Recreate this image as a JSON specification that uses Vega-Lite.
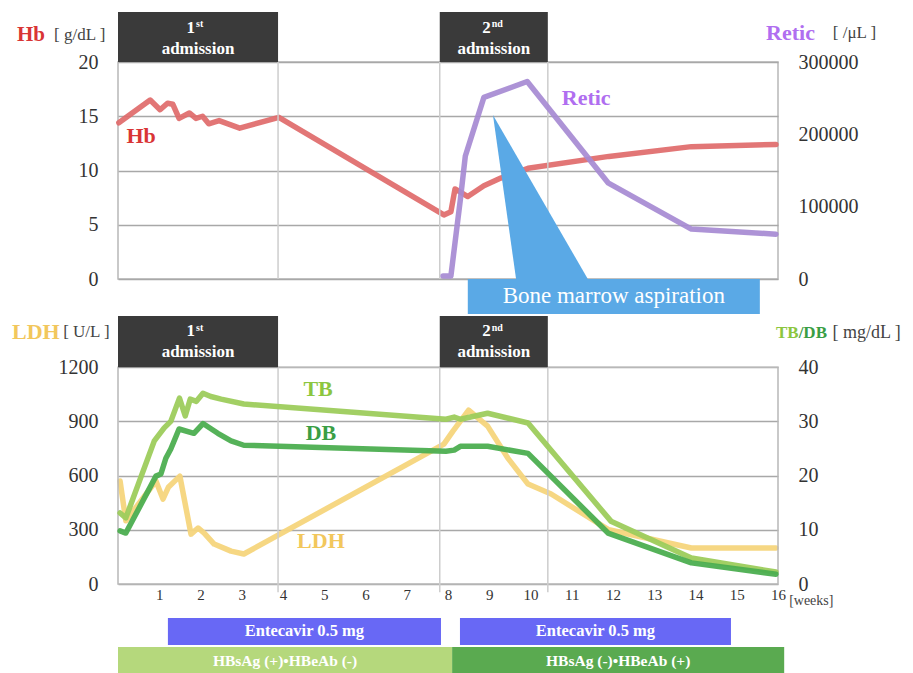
{
"$schema":"https://vega.github.io/schema/vega-lite/v6.json",
"background":"white",
"padding":{"left":11,"top":11,"right":2,"bottom":0},
"spacing":34,
"bounds":"flush",
"config":{
 "font":"Liberation Serif",
 "view":{"stroke":"#b8b8b8","strokeWidth":1.5},
 "axis":{"domain":false,"ticks":false,"labelFont":"Liberation Serif","labelColor":"#333333","labelFontSize":20,"gridColor":"#a8a8a8","gridWidth":1.5,"labelPadding":20}
},
"datasets":{
 "hb":[{"w":0.02,"v":14.4},{"w":0.78,"v":16.5},{"w":1.02,"v":15.6},{"w":1.2,"v":16.2},{"w":1.33,"v":16.1},{"w":1.48,"v":14.8},{"w":1.73,"v":15.3},{"w":1.89,"v":14.8},{"w":2.05,"v":15.0},{"w":2.2,"v":14.3},{"w":2.45,"v":14.6},{"w":2.95,"v":13.9},{"w":3.9,"v":14.9},{"w":7.9,"v":5.9},{"w":8.07,"v":6.2},{"w":8.17,"v":8.3},{"w":8.48,"v":7.6},{"w":8.87,"v":8.6},{"w":9.28,"v":9.3},{"w":9.94,"v":10.2},{"w":11.9,"v":11.3},{"w":13.9,"v":12.2},{"w":15.95,"v":12.4}],
 "retic":[{"w":7.88,"v":4000},{"w":8.07,"v":4000},{"w":8.3,"v":110000},{"w":8.42,"v":170000},{"w":8.87,"v":251000},{"w":9.92,"v":273000},{"w":11.88,"v":133000},{"w":13.9,"v":69000},{"w":15.95,"v":62000}],
 "ldh":[{"w":0.05,"v":570},{"w":0.19,"v":350},{"w":0.92,"v":570},{"w":1.09,"v":470},{"w":1.22,"v":535},{"w":1.5,"v":597},{"w":1.77,"v":276},{"w":1.94,"v":310},{"w":2.09,"v":282},{"w":2.33,"v":221},{"w":2.74,"v":182},{"w":3.05,"v":166},{"w":7.9,"v":774},{"w":8.12,"v":846},{"w":8.5,"v":962},{"w":8.96,"v":874},{"w":9.45,"v":697},{"w":9.94,"v":553},{"w":10.5,"v":498},{"w":11.9,"v":300},{"w":13.9,"v":199},{"w":15.95,"v":199}],
 "tb":[{"w":0.05,"v":13.1},{"w":0.19,"v":12.2},{"w":0.88,"v":26.4},{"w":1.12,"v":28.8},{"w":1.28,"v":30.0},{"w":1.49,"v":34.3},{"w":1.63,"v":31.0},{"w":1.75,"v":34.1},{"w":1.9,"v":33.7},{"w":2.06,"v":35.2},{"w":2.25,"v":34.6},{"w":2.5,"v":34.1},{"w":3.05,"v":33.2},{"w":7.95,"v":30.4},{"w":8.15,"v":30.8},{"w":8.3,"v":30.4},{"w":8.96,"v":31.5},{"w":9.94,"v":29.7},{"w":11.95,"v":11.6},{"w":13.9,"v":4.8},{"w":15.95,"v":2.2}],
 "db":[{"w":0.05,"v":9.8},{"w":0.19,"v":9.4},{"w":0.92,"v":19.9},{"w":1.04,"v":20.3},{"w":1.16,"v":23.2},{"w":1.28,"v":24.9},{"w":1.48,"v":28.6},{"w":1.84,"v":27.8},{"w":2.06,"v":29.6},{"w":2.42,"v":27.8},{"w":2.74,"v":26.4},{"w":3.05,"v":25.6},{"w":7.95,"v":24.5},{"w":8.15,"v":24.7},{"w":8.3,"v":25.4},{"w":8.96,"v":25.4},{"w":9.94,"v":24.1},{"w":11.88,"v":9.4},{"w":13.9,"v":3.9},{"w":15.95,"v":1.8}],
 "adm":[{"id":"a1","num":"1","sup":"st","start":0,"end":3.88},{"id":"a2","num":"2","sup":"nd","start":7.8,"end":10.42}],
 "vlines":[{"w":3.88},{"w":7.8},{"w":10.42}],
 "bars":[{"id":"e1","row":"E","kind":"ent","label":"Entecavir 0.5 mg","start":1.21,"end":7.83},{"id":"e2","row":"E","kind":"ent","label":"Entecavir 0.5 mg","start":8.29,"end":14.86},{"id":"h1","row":"H","kind":"pos","label":"HBsAg (+)•HBeAb (-)","start":0,"end":8.1},{"id":"h2","row":"H","kind":"neg","label":"HBsAg (-)•HBeAb (+)","start":8.1,"end":16.15}]
},
"vconcat":[
 {
  "width":660,"height":217,
  "resolve":{"scale":{"y":"independent"}},
  "layer":[
   {"layer":[
    {"data":{"name":"hb"},
     "mark":{"type":"line","color":"#e06a6a","strokeWidth":5.5,"opacity":0.92,"strokeJoin":"round","strokeCap":"round"},
     "encoding":{"x":{"field":"w","type":"quantitative","scale":{"domain":[0,16],"nice":false,"zero":false},"axis":null},
      "y":{"field":"v","type":"quantitative","scale":{"domain":[0,20],"nice":false},"axis":{"orient":"left","title":null,"values":[0,5,10,15,20],"grid":true}}}},
    {"data":{"name":"vlines"},
     "mark":{"type":"rule","color":"#cdcdcd","strokeWidth":1.5},
     "encoding":{"x":{"field":"w","type":"quantitative","scale":{"domain":[0,16],"nice":false,"zero":false},"axis":null},
      "y":{"datum":0,"type":"quantitative","scale":{"domain":[0,20],"nice":false}},
      "y2":{"datum":20}}},
    {"data":{"name":"adm"},
     "mark":{"type":"rect","color":"#3a3a3a"},
     "encoding":{"x":{"field":"start","type":"quantitative","scale":{"domain":[0,16],"nice":false,"zero":false},"axis":null},"x2":{"field":"end"},
      "y":{"datum":20,"type":"quantitative","scale":{"domain":[0,20],"nice":false}},"y2":{"datum":24.6}}},
    {"data":{"name":"adm"},"transform":[{"fold":["start","end"],"as":["k","pos"]}],
     "mark":{"type":"text","color":"white","fontWeight":"bold","fontSize":17,"align":"right","baseline":"middle","dx":-3},
     "encoding":{"x":{"aggregate":"mean","field":"pos","type":"quantitative","scale":{"domain":[0,16],"nice":false,"zero":false},"axis":null},
      "y":{"datum":23.1,"type":"quantitative","scale":{"domain":[0,20],"nice":false}},"text":{"field":"num"}}},
    {"data":{"name":"adm"},"transform":[{"fold":["start","end"],"as":["k","pos"]}],
     "mark":{"type":"text","color":"white","fontWeight":"bold","fontSize":10,"align":"left","baseline":"middle","dx":-2},
     "encoding":{"x":{"aggregate":"mean","field":"pos","type":"quantitative","scale":{"domain":[0,16],"nice":false,"zero":false},"axis":null},
      "y":{"datum":23.5,"type":"quantitative","scale":{"domain":[0,20],"nice":false}},"text":{"field":"sup"}}},
    {"data":{"name":"adm"},"transform":[{"fold":["start","end"],"as":["k","pos"]}],
     "mark":{"type":"text","color":"white","fontWeight":"bold","fontSize":17,"align":"center","baseline":"middle"},
     "encoding":{"x":{"aggregate":"mean","field":"pos","type":"quantitative","scale":{"domain":[0,16],"nice":false,"zero":false},"axis":null},
      "y":{"datum":21.2,"type":"quantitative","scale":{"domain":[0,20],"nice":false}},"detail":{"field":"id"},"text":{"value":"admission"}}},
    {"data":{"values":[{"w":0.56,"v":13.2,"t":"Hb"}]},
     "mark":{"type":"text","color":"#d93535","fontWeight":"bold","fontSize":22,"baseline":"middle"},
     "encoding":{"x":{"field":"w","type":"quantitative","scale":{"domain":[0,16],"nice":false,"zero":false},"axis":null},
      "y":{"field":"v","type":"quantitative","scale":{"domain":[0,20],"nice":false}},"text":{"field":"t"}}},
    {"data":{"values":[{"w":-2.45,"v":22.5,"t":"Hb"}]},
     "mark":{"type":"text","color":"#d93535","fontWeight":"bold","fontSize":21,"align":"left","baseline":"middle"},
     "encoding":{"x":{"field":"w","type":"quantitative","scale":{"domain":[0,16],"nice":false,"zero":false},"axis":null},
      "y":{"field":"v","type":"quantitative","scale":{"domain":[0,20],"nice":false}},"text":{"field":"t"}}},
    {"data":{"values":[{"w":-1.55,"v":22.5,"t":"[ g/dL ]"}]},
     "mark":{"type":"text","color":"#444444","fontSize":17,"align":"left","baseline":"middle"},
     "encoding":{"x":{"field":"w","type":"quantitative","scale":{"domain":[0,16],"nice":false,"zero":false},"axis":null},
      "y":{"field":"v","type":"quantitative","scale":{"domain":[0,20],"nice":false}},"text":{"field":"t"}}}
   ]},
   {"layer":[
    {"data":{"name":"retic"},
     "mark":{"type":"line","color":"#a68ad2","strokeWidth":5.5,"opacity":0.92,"strokeJoin":"round","strokeCap":"round"},
     "encoding":{"x":{"field":"w","type":"quantitative","scale":{"domain":[0,16],"nice":false,"zero":false},"axis":null},
      "y":{"field":"v","type":"quantitative","scale":{"domain":[0,300000],"nice":false},"axis":{"orient":"right","title":null,"values":[0,100000,200000,300000],"format":"d","grid":false}}}},
    {"data":{"values":[{"v":0,"a":9.65,"b":11.39},{"v":226700,"a":9.09,"b":9.09}]},
     "mark":{"type":"area","orient":"horizontal","color":"#5aa9e6","opacity":1},
     "encoding":{"y":{"field":"v","type":"quantitative","scale":{"domain":[0,300000],"nice":false}},
      "x":{"field":"a","type":"quantitative","scale":{"domain":[0,16],"nice":false,"zero":false},"axis":null},"x2":{"field":"b"}}},
    {"data":{"values":[{"start":8.48,"end":15.56,"t":"Bone marrow aspiration"}]},
     "mark":{"type":"rect","color":"#5aa9e6"},
     "encoding":{"x":{"field":"start","type":"quantitative","scale":{"domain":[0,16],"nice":false,"zero":false},"axis":null},"x2":{"field":"end"},
      "y":{"datum":0,"type":"quantitative","scale":{"domain":[0,300000],"nice":false}},"y2":{"datum":-48400}}},
    {"data":{"values":[{"start":8.48,"end":15.56,"t":"Bone marrow aspiration"}]},"transform":[{"fold":["start","end"],"as":["k","pos"]}],
     "mark":{"type":"text","color":"white","fontSize":23,"baseline":"middle"},
     "encoding":{"x":{"aggregate":"mean","field":"pos","type":"quantitative","scale":{"domain":[0,16],"nice":false,"zero":false},"axis":null},
      "y":{"datum":-23500,"type":"quantitative","scale":{"domain":[0,300000],"nice":false}},"text":{"field":"t"}}},
    {"data":{"values":[{"w":11.35,"v":250200,"t":"Retic"}]},
     "mark":{"type":"text","color":"#b06ef0","fontWeight":"bold","fontSize":22,"baseline":"middle"},
     "encoding":{"x":{"field":"w","type":"quantitative","scale":{"domain":[0,16],"nice":false,"zero":false},"axis":null},
      "y":{"field":"v","type":"quantitative","scale":{"domain":[0,300000],"nice":false}},"text":{"field":"t"}}},
    {"data":{"values":[{"w":15.71,"v":340000,"t":"Retic"}]},
     "mark":{"type":"text","color":"#b06ef0","fontWeight":"bold","fontSize":22,"align":"left","baseline":"middle"},
     "encoding":{"x":{"field":"w","type":"quantitative","scale":{"domain":[0,16],"nice":false,"zero":false},"axis":null},
      "y":{"field":"v","type":"quantitative","scale":{"domain":[0,300000],"nice":false}},"text":{"field":"t"}}},
    {"data":{"values":[{"w":17.33,"v":340000,"t":"[ /μL ]"}]},
     "mark":{"type":"text","color":"#444444","fontSize":17,"align":"left","baseline":"middle"},
     "encoding":{"x":{"field":"w","type":"quantitative","scale":{"domain":[0,16],"nice":false,"zero":false},"axis":null},
      "y":{"field":"v","type":"quantitative","scale":{"domain":[0,300000],"nice":false}},"text":{"field":"t"}}}
   ]}
  ]
 },
 {
  "width":660,"height":271,
  "view":{"stroke":null},
  "resolve":{"scale":{"y":"independent"}},
  "layer":[
   {"layer":[
    {"data":{"name":"ldh"},
     "mark":{"type":"line","color":"#f6d57c","strokeWidth":5.5,"opacity":0.95,"strokeJoin":"round","strokeCap":"round"},
     "encoding":{"x":{"field":"w","type":"quantitative","scale":{"domain":[0,16],"nice":false,"zero":false},"axis":{"orient":"bottom","title":null,"values":[1,2,3,4,5,6,7,8,9,10,11,12,13,14,15,16],"labelFontSize":15,"labelPadding":3,"labelFlush":false,"labelOverlap":false,"grid":false}},
      "y":{"field":"v","type":"quantitative","scale":{"domain":[0,1500],"nice":false},"axis":{"orient":"left","title":null,"values":[0,300,600,900,1200],"format":"d","grid":true}}}},
    {"data":{"values":[{}]},
     "mark":{"type":"rect","filled":false,"stroke":"#b8b8b8","strokeWidth":1.5},
     "encoding":{"x":{"datum":0,"type":"quantitative","scale":{"domain":[0,16],"nice":false,"zero":false}},"x2":{"datum":16},
      "y":{"datum":0,"type":"quantitative","scale":{"domain":[0,1500],"nice":false}},"y2":{"datum":1200}}},
    {"data":{"name":"vlines"},
     "mark":{"type":"rule","color":"#cdcdcd","strokeWidth":1.5},
     "encoding":{"x":{"field":"w","type":"quantitative","scale":{"domain":[0,16],"nice":false,"zero":false}},
      "y":{"datum":-45,"type":"quantitative","scale":{"domain":[0,1500],"nice":false}},
      "y2":{"datum":1200}}},
    {"data":{"name":"adm"},
     "mark":{"type":"rect","color":"#3a3a3a"},
     "encoding":{"x":{"field":"start","type":"quantitative","scale":{"domain":[0,16],"nice":false,"zero":false}},"x2":{"field":"end"},
      "y":{"datum":1200,"type":"quantitative","scale":{"domain":[0,1500],"nice":false}},"y2":{"datum":1483}}},
    {"data":{"name":"adm"},"transform":[{"fold":["start","end"],"as":["k","pos"]}],
     "mark":{"type":"text","color":"white","fontWeight":"bold","fontSize":17,"align":"right","baseline":"middle","dx":-3},
     "encoding":{"x":{"aggregate":"mean","field":"pos","type":"quantitative","scale":{"domain":[0,16],"nice":false,"zero":false}},
      "y":{"datum":1398,"type":"quantitative","scale":{"domain":[0,1500],"nice":false}},"text":{"field":"num"}}},
    {"data":{"name":"adm"},"transform":[{"fold":["start","end"],"as":["k","pos"]}],
     "mark":{"type":"text","color":"white","fontWeight":"bold","fontSize":10,"align":"left","baseline":"middle","dx":-2},
     "encoding":{"x":{"aggregate":"mean","field":"pos","type":"quantitative","scale":{"domain":[0,16],"nice":false,"zero":false}},
      "y":{"datum":1418,"type":"quantitative","scale":{"domain":[0,1500],"nice":false}},"text":{"field":"sup"}}},
    {"data":{"name":"adm"},"transform":[{"fold":["start","end"],"as":["k","pos"]}],
     "mark":{"type":"text","color":"white","fontWeight":"bold","fontSize":17,"align":"center","baseline":"middle"},
     "encoding":{"x":{"aggregate":"mean","field":"pos","type":"quantitative","scale":{"domain":[0,16],"nice":false,"zero":false}},
      "y":{"datum":1284,"type":"quantitative","scale":{"domain":[0,1500],"nice":false}},"detail":{"field":"id"},"text":{"value":"admission"}}},
    {"data":{"values":[{"w":4.92,"v":238,"t":"LDH"}]},
     "mark":{"type":"text","color":"#f2c75c","fontWeight":"bold","fontSize":22,"baseline":"middle"},
     "encoding":{"x":{"field":"w","type":"quantitative","scale":{"domain":[0,16],"nice":false,"zero":false}},
      "y":{"field":"v","type":"quantitative","scale":{"domain":[0,1500],"nice":false}},"text":{"field":"t"}}},
    {"data":{"values":[{"w":-2.57,"v":1395,"t":"LDH"}]},
     "mark":{"type":"text","color":"#f2c75c","fontWeight":"bold","fontSize":22,"align":"left","baseline":"middle"},
     "encoding":{"x":{"field":"w","type":"quantitative","scale":{"domain":[0,16],"nice":false,"zero":false}},
      "y":{"field":"v","type":"quantitative","scale":{"domain":[0,1500],"nice":false}},"text":{"field":"t"}}},
    {"data":{"values":[{"w":-1.33,"v":1395,"t":"[ U/L ]"}]},
     "mark":{"type":"text","color":"#444444","fontSize":17,"align":"left","baseline":"middle"},
     "encoding":{"x":{"field":"w","type":"quantitative","scale":{"domain":[0,16],"nice":false,"zero":false}},
      "y":{"field":"v","type":"quantitative","scale":{"domain":[0,1500],"nice":false}},"text":{"field":"t"}}},
    {"data":{"values":[{"w":16.27,"v":-94,"t":"[weeks]"}]},
     "mark":{"type":"text","color":"#444444","fontSize":14,"align":"left","baseline":"middle"},
     "encoding":{"x":{"field":"w","type":"quantitative","scale":{"domain":[0,16],"nice":false,"zero":false}},
      "y":{"field":"v","type":"quantitative","scale":{"domain":[0,1500],"nice":false}},"text":{"field":"t"}}}
   ]},
   {"layer":[
    {"data":{"name":"tb"},
     "mark":{"type":"line","color":"#9dcc5c","strokeWidth":5.5,"opacity":0.95,"strokeJoin":"round","strokeCap":"round"},
     "encoding":{"x":{"field":"w","type":"quantitative","scale":{"domain":[0,16],"nice":false,"zero":false}},
      "y":{"field":"v","type":"quantitative","scale":{"domain":[0,50],"nice":false},"axis":{"orient":"right","title":null,"values":[0,10,20,30,40],"grid":false}}}},
    {"data":{"name":"db"},
     "mark":{"type":"line","color":"#4cae50","strokeWidth":5.5,"opacity":0.95,"strokeJoin":"round","strokeCap":"round"},
     "encoding":{"x":{"field":"w","type":"quantitative","scale":{"domain":[0,16],"nice":false,"zero":false}},
      "y":{"field":"v","type":"quantitative","scale":{"domain":[0,50],"nice":false}}}},
    {"data":{"values":[{"w":4.85,"v":35.9,"t":"TB"}]},
     "mark":{"type":"text","color":"#8cc63f","fontWeight":"bold","fontSize":22,"baseline":"middle"},
     "encoding":{"x":{"field":"w","type":"quantitative","scale":{"domain":[0,16],"nice":false,"zero":false}},
      "y":{"field":"v","type":"quantitative","scale":{"domain":[0,50],"nice":false}},"text":{"field":"t"}}},
    {"data":{"values":[{"w":4.92,"v":27.8,"t":"DB"}]},
     "mark":{"type":"text","color":"#3a9e44","fontWeight":"bold","fontSize":22,"baseline":"middle"},
     "encoding":{"x":{"field":"w","type":"quantitative","scale":{"domain":[0,16],"nice":false,"zero":false}},
      "y":{"field":"v","type":"quantitative","scale":{"domain":[0,50],"nice":false}},"text":{"field":"t"}}},
    {"data":{"values":[{"w":15.95,"v":46.3,"t":"TB"}]},
     "mark":{"type":"text","color":"#8cc63f","fontWeight":"bold","fontSize":17,"align":"left","baseline":"middle"},
     "encoding":{"x":{"field":"w","type":"quantitative","scale":{"domain":[0,16],"nice":false,"zero":false}},
      "y":{"field":"v","type":"quantitative","scale":{"domain":[0,50],"nice":false}},"text":{"field":"t"}}},
    {"data":{"values":[{"w":16.5,"v":46.3,"t":"/DB"}]},
     "mark":{"type":"text","color":"#3a9e44","fontWeight":"bold","fontSize":17,"align":"left","baseline":"middle"},
     "encoding":{"x":{"field":"w","type":"quantitative","scale":{"domain":[0,16],"nice":false,"zero":false}},
      "y":{"field":"v","type":"quantitative","scale":{"domain":[0,50],"nice":false}},"text":{"field":"t"}}},
    {"data":{"values":[{"w":17.32,"v":46.3,"t":"[ mg/dL ]"}]},
     "mark":{"type":"text","color":"#444444","fontSize":18,"align":"left","baseline":"middle"},
     "encoding":{"x":{"field":"w","type":"quantitative","scale":{"domain":[0,16],"nice":false,"zero":false}},
      "y":{"field":"v","type":"quantitative","scale":{"domain":[0,50],"nice":false}},"text":{"field":"t"}}}
   ]}
  ]
 },
 {
  "width":660,"height":56,
  "view":{"stroke":null},
  "data":{"name":"bars"},
  "layer":[
   {"mark":{"type":"rect"},
    "encoding":{"x":{"field":"start","type":"quantitative","scale":{"domain":[0,16],"nice":false,"zero":false},"axis":null},"x2":{"field":"end"},
     "y":{"field":"row","type":"nominal","scale":{"domain":["E","H"],"paddingInner":0.07,"paddingOuter":0},"axis":null},
     "color":{"field":"kind","type":"nominal","scale":{"domain":["ent","pos","neg"],"range":["#6868f5","#b5d87c","#5aaa50"]},"legend":null}}},
   {"transform":[{"filter":"datum.row === 'E'"},{"fold":["start","end"],"as":["k","pos"]}],
    "mark":{"type":"text","color":"white","fontWeight":"bold","fontSize":16.5,"baseline":"middle"},
    "encoding":{"x":{"aggregate":"mean","field":"pos","type":"quantitative","scale":{"domain":[0,16],"nice":false,"zero":false},"axis":null},
     "y":{"field":"row","type":"nominal","scale":{"domain":["E","H"],"paddingInner":0.07,"paddingOuter":0},"axis":null},
     "detail":{"field":"id"},"text":{"field":"label"}}},
   {"transform":[{"filter":"datum.row === 'H'"},{"fold":["start","end"],"as":["k","pos"]}],
    "mark":{"type":"text","color":"white","fontWeight":"bold","fontSize":15.5,"baseline":"middle"},
    "encoding":{"x":{"aggregate":"mean","field":"pos","type":"quantitative","scale":{"domain":[0,16],"nice":false,"zero":false},"axis":null},
     "y":{"field":"row","type":"nominal","scale":{"domain":["E","H"],"paddingInner":0.07,"paddingOuter":0},"axis":null},
     "detail":{"field":"id"},"text":{"field":"label"}}}
  ]
 }
]
}
